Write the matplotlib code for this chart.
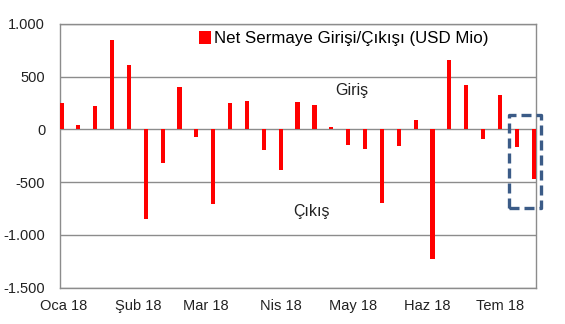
import matplotlib.pyplot as plt
import matplotlib.dates as mdates
from matplotlib.patches import Rectangle
import pandas as pd

plt.rcParams['font.family'] = ['Liberation Sans', 'DejaVu Sans']

# weekly net capital flows, USD mn
values = [250, 45, 225, 845, 610, -850, -315, 400, -76, -710,
          247, 272, -195, -385, 260, 228, 25, -143, -185, -700,
          -152, 89, -1225, 657, 422, -89, 324, -165, -473]
weeks = pd.date_range('2017-12-31', periods=len(values), freq='7D')

month_starts = pd.date_range('2018-01-01', '2018-07-01', freq='MS')
month_labels = ['Oca 18', 'Şub 18', 'Mar 18', 'Nis 18', 'May 18', 'Haz 18', 'Tem 18']
y_ticks = [-1500, -1000, -500, 0, 500, 1000]
y_labels = ['-1.500', '-1.000', '-500', '0', '500', '1.000']

fig = plt.figure(figsize=(5.65, 3.24), dpi=100)
ax = fig.add_axes([0.107, 0.112, 0.841, 0.814])

ax.bar(weeks, values, width=1.75, color='#ff0000', zorder=3,
       label='Net Sermaye Girişi/Çıkışı (USD Mio)')

ax.set_ylim(-1500, 1000)
ax.set_xlim(weeks[0] - pd.Timedelta(days=0.4), weeks[-1] + pd.Timedelta(days=0.8))
ax.set_yticks(y_ticks)
ax.set_yticklabels(y_labels)
ax.set_xticks(month_starts)
ax.set_xticklabels(month_labels)
ax.tick_params(axis='y', length=0, pad=11, labelsize=10.5, labelcolor='#222222')
ax.tick_params(axis='x', length=0, pad=8, labelsize=10.5, labelcolor='#222222')
ax.grid(axis='y', color='#8c8c8c', linewidth=1)
ax.set_axisbelow(True)
for s in ax.spines.values():
    s.set_color('#8c8c8c')
    s.set_linewidth(1)

ax.legend(loc='upper left', bbox_to_anchor=(0.292, 0.975), frameon=False,
          fontsize=12.2, handlelength=0.7, handleheight=0.85, handletextpad=0.15,
          borderaxespad=0, borderpad=0)

ax.text(mdates.date2num(weeks[0]) + 17.2 * 7, 365, 'Giriş', ha='center', va='center',
        fontsize=11.5, color='#222222')
ax.text(mdates.date2num(weeks[0]) + 14.8 * 7, -775, 'Çıkış', ha='center', va='center',
        fontsize=11.5, color='#222222')

# dashed box around the last two weeks
x0 = mdates.date2num(weeks[0]) + 26.55 * 7
x1 = mdates.date2num(weeks[0]) + 28.45 * 7
box = Rectangle((x0, -745), x1 - x0, 880, fill=False, edgecolor='#3b5b87',
                linewidth=2.4, linestyle=(0, (3, 1.5)), joinstyle='round',
                clip_on=False, zorder=5)
ax.add_patch(box)

fig.savefig('out.png', dpi=100)
